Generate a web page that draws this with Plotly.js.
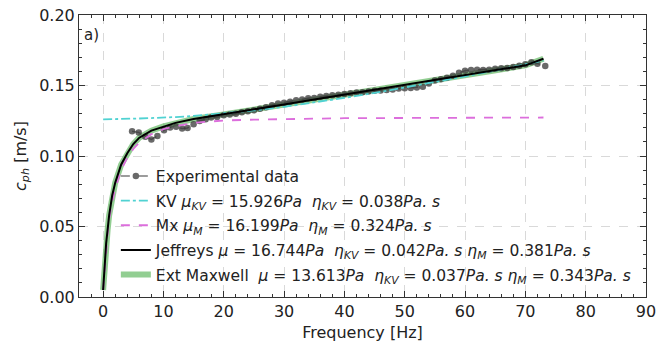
<!DOCTYPE html>
<html><head><meta charset="utf-8">
<script src="https://cdn.plot.ly/plotly-3.0.1.min.js"></script>
<style>html,body{margin:0;padding:0;background:#fff}#c{width:667px;height:343px}</style>
</head><body><div id="c"></div>
<script>
// Experimental data
const expFreq = [4.8,5.9,7.0,8.0,9.0,10.1,11.1,12.1,13.1,14.0,15.0,16.0,17.0,17.9,18.9,20.0,
  21,22,23,24,25,26,27,28,29,30,31,32,33,34,35,36,37,38,39,40,41,42,43,44,45,46,47,48,49,50,
  51,52,53,54,55,56,57,58,59,60,61,62,63,64,65,66,67,68,69,70,71,72,73.3];
const expC = [0.1176,0.1167,0.1136,0.1117,0.1141,0.1183,0.1202,0.1207,0.1195,0.1199,0.1226,0.1249,0.1261,0.1273,0.1277,0.1289,
  0.1295,0.1300,0.1310,0.1318,0.1325,0.1335,0.1345,0.1360,0.1372,0.1378,0.1385,0.1395,0.1400,0.1410,0.1412,0.1420,0.1425,0.1430,0.1435,0.1440,0.1445,0.1450,0.1452,0.1458,0.1462,0.1465,0.1468,0.1472,0.1478,0.1480,
  0.1482,0.1485,0.1492,0.1515,0.1535,0.1545,0.1555,0.1570,0.1590,0.1605,0.1610,0.1612,0.1610,0.1612,0.1618,0.1622,0.1625,0.1632,0.1640,0.1650,0.1665,0.1655,0.1638];

// Model curves
const modelFreq = [0,0.25,0.5,0.75,1,1.5,2,3,4,5,6,8,10,12,15,20,25,30,35,40,45,50,55,60,65,70,73];
const kvC   = [0.1260,0.1260,0.1260,0.1260,0.1260,0.1260,0.1261,0.1262,0.1263,0.1265,0.1266,0.1268,0.1271,0.1276,0.1284,0.1301,0.1323,0.1349,0.1379,0.1412,0.1447,0.1485,0.1524,0.1565,0.1606,0.1649,0.1677];
const mxC   = [0.0050,0.0200,0.0340,0.0450,0.0550,0.0680,0.0770,0.0900,0.0990,0.1050,0.1095,0.1155,0.1190,0.1212,0.1235,0.1252,0.1258,0.1263,0.1266,0.1268,0.1269,0.1270,0.1271,0.1272,0.1272,0.1273,0.1273];
const jefC  = [0.0050,0.0250,0.0380,0.0480,0.0580,0.0720,0.0810,0.0940,0.1020,0.1085,0.1130,0.1180,0.1210,0.1235,0.1262,0.1295,0.1330,0.1365,0.1400,0.1435,0.1470,0.1503,0.1538,0.1572,0.1607,0.1643,0.1690];
const extC  = [0.0050,0.0250,0.0380,0.0480,0.0580,0.0720,0.0810,0.0940,0.1020,0.1085,0.1130,0.1180,0.1210,0.1235,0.1262,0.1295,0.1330,0.1365,0.1400,0.1435,0.1470,0.1503,0.1538,0.1572,0.1607,0.1643,0.1690];

const NB = '\u00a0';
const names = [
  'Experimental data',
  'KV' + NB + '<i>μ</i><sub><i>KV</i></sub> = 15.926<i>Pa</i>' + NB + NB + '<i>η</i><sub><i>KV</i></sub> = 0.038<i>Pa. s</i>',
  'Mx' + NB + '<i>μ</i><sub><i>M</i></sub> = 16.199<i>Pa</i>' + NB + NB + '<i>η</i><sub><i>M</i></sub> = 0.324<i>Pa. s</i>',
  'Jeffreys' + NB + '<i>μ</i> = 16.744<i>Pa</i>' + NB + NB + '<i>η</i><sub><i>KV</i></sub> = 0.042<i>Pa. s</i>' + NB + '<i>η</i><sub><i>M</i></sub> = 0.381<i>Pa. s</i>',
  'Ext Maxwell' + NB + NB + '<i>μ</i> = 13.613<i>Pa</i>' + NB + NB + '<i>η</i><sub><i>KV</i></sub> = 0.037<i>Pa. s</i>' + NB + '<i>η</i><sub><i>M</i></sub> = 0.343<i>Pa. s</i>'
];

const traces = [
  {x: modelFreq, y: extC, mode: 'lines', name: names[4], legendrank: 5, legendgroup: 'e',
   line: {color: 'rgba(110,190,110,0.75)', width: 6}},
  {x: expFreq, y: expC, mode: 'lines+markers', name: names[0], legendrank: 1, legendgroup: 'a',
   line: {color: 'rgba(90,90,90,0.8)', width: 1.5, dash: 'dash'},
   marker: {color: 'rgba(55,55,55,0.75)', size: 6.5}},
  {x: modelFreq, y: kvC, mode: 'lines', name: names[1], legendrank: 2, legendgroup: 'b',
   line: {color: 'rgb(80,210,210)', width: 1.8, dash: 'dashdot'}},
  {x: modelFreq, y: mxC, mode: 'lines', name: names[2], legendrank: 3, legendgroup: 'c',
   line: {color: 'rgb(220,110,220)', width: 1.8, dash: 'dash'}},
  {x: modelFreq, y: jefC, mode: 'lines', name: names[3], legendrank: 4, legendgroup: 'd',
   line: {color: '#000', width: 2}}
];

const axisCommon = {
  showline: true, linecolor: '#333', linewidth: 1, mirror: 'allticks',
  ticks: 'inside', ticklen: 6, tickcolor: '#333', tickwidth: 1,
  showgrid: true, gridcolor: '#d9d9d9', griddash: 'dash', gridwidth: 1,
  zeroline: false, tickfont: {size: 16, color: '#222'}
};

const layout = {
  width: 667, height: 343,
  margin: {l: 79, r: 21, t: 15, b: 46},
  paper_bgcolor: '#fff', plot_bgcolor: '#fff',
  font: {family: 'DejaVu Sans', color: '#222'},
  showlegend: true,
  legend: {x: 0.065, y: 0.02, xanchor: 'left', yanchor: 'bottom',
    bgcolor: 'rgba(0,0,0,0)', font: {size: 15.5}, traceorder: 'grouped', tracegroupgap: 1.5},
  xaxis: Object.assign({}, axisCommon, {
    range: [-4, 90], tick0: 0, dtick: 10,
    minor: {dtick: 2, ticks: 'inside', ticklen: 3, tickcolor: '#333', showgrid: false},
    title: {text: 'Frequency [Hz]', font: {size: 16}, standoff: 6}
  }),
  yaxis: Object.assign({}, axisCommon, {
    range: [0, 0.2], tick0: 0, dtick: 0.05, tickformat: '.2f',
    minor: {dtick: 0.01, ticks: 'inside', ticklen: 3, tickcolor: '#333', showgrid: false},
    title: {text: '<i>c</i><sub><i>ph</i></sub> [m/s]', font: {size: 16}, standoff: 8}
  }),
  annotations: [{xref: 'paper', yref: 'paper', x: 0.005, y: 0.93, xanchor: 'left', yanchor: 'middle',
    text: 'a)', showarrow: false, font: {size: 15, color: '#222'}}]
};

Plotly.newPlot('c', traces, layout, {staticPlot: true, displayModeBar: false});
</script>
</body></html>
